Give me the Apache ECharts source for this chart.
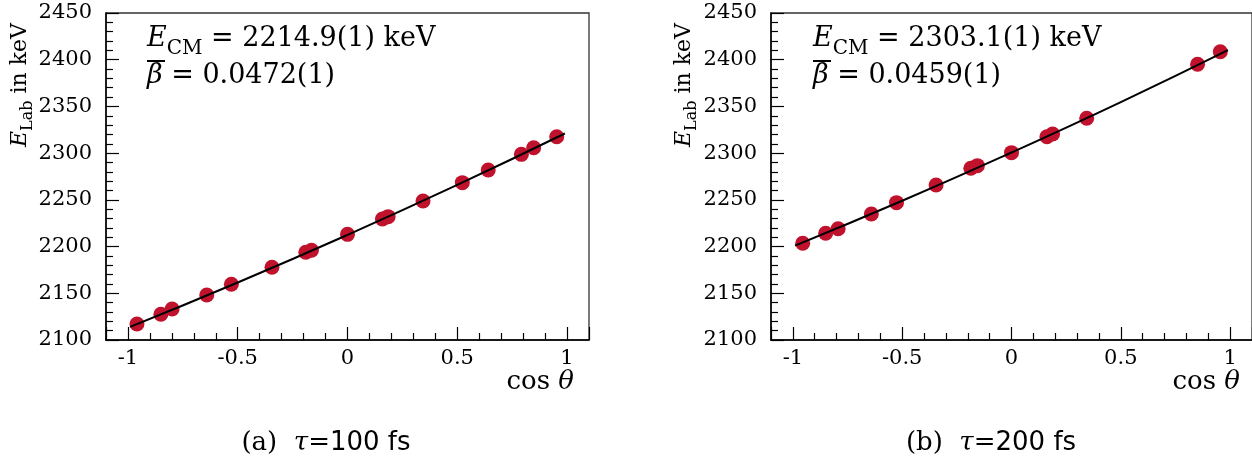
<!DOCTYPE html>
<html>
<head>
<meta charset="utf-8">
<script src="https://cdn.jsdelivr.net/npm/echarts@6/dist/echarts.min.js"></script>
<style>
html,body{margin:0;padding:0;background:#fff;}
#c{width:1252px;height:466px;}
</style>
</head>
<body>
<div id="c"></div>
<script>
// ---- data ----
const cosA = [-0.959,-0.85,-0.799,-0.641,-0.529,-0.344,-0.19,-0.164,0,0.159,0.185,0.344,0.523,0.641,0.792,0.848,0.953];
const eLabA = [2117.1,2127.5,2133.2,2148.2,2159.6,2177.8,2193.9,2196,2213.1,2229.5,2232,2248.8,2268.4,2282,2298.7,2305.8,2317.6];
const fitCosA = [-0.99,-0.5,0,0.5,0.99];
const fitEA = [2114,2161.5,2212.5,2266,2321];

const cosB = [-0.955,-0.85,-0.793,-0.641,-0.526,-0.345,-0.186,-0.156,0,0.162,0.188,0.344,0.851,0.955];
const eLabB = [2203.5,2214.2,2219.1,2234.9,2247,2265.9,2283.8,2286.6,2300.5,2317.6,2320.5,2337.3,2395.1,2408.6];
const fitCosB = [-0.99,-0.5,0,0.5,0.99];
const fitEB = [2201,2249,2300.7,2354.7,2410.3];

const ecmA = '2214.9(1)', betaA = '0.0472(1)', captionA = ['(a)','100'];
const ecmB = '2303.1(1)', betaB = '0.0459(1)', captionB = ['(b)','200'];

const yMin = 2100, yMax = 2450, yStep = 50;
const xMin = -1.1, xMax = 1.1;

// ---- chart ----
const SERIF = '"DejaVu Serif", serif';
const SANS = '"DejaVu Sans", sans-serif';
const red = '#c0122c';

function zip(a,b){return a.map((v,i)=>[v,b[i]]);}

function xAxisCfg(idx){
  return {
    type:'value', gridIndex:idx, min:xMin, max:xMax,
    axisLine:{onZero:false, lineStyle:{color:'#000', width:1.5}},
    axisTick:{inside:true, length:13, lineStyle:{color:'#000', width:1.2}},
    minorTick:{show:true, splitNumber:5, length:7, lineStyle:{color:'#000', width:1.2}},
    splitLine:{show:false}, minorSplitLine:{show:false},
    axisLabel:{showMinLabel:false, showMaxLabel:false, margin:8, fontSize:21, fontFamily:SERIF, color:'#000',
      formatter:v=>String(v)}
  };
}
function yAxisCfg(idx){
  return {
    type:'value', gridIndex:idx, min:yMin, max:yMax, interval:yStep,
    axisLine:{onZero:false, lineStyle:{color:'#000', width:1.5}},
    axisTick:{inside:true, length:13, lineStyle:{color:'#000', width:1.2}},
    minorTick:{show:true, splitNumber:5, length:7, lineStyle:{color:'#000', width:1.2}},
    splitLine:{show:false},
    axisLabel:{margin:14, fontSize:21, fontFamily:SERIF, color:'#000', formatter:v=>String(v)}
  };
}

const richMain = {
  e:{fontFamily:SERIF, fontStyle:'italic', fontSize:27, lineHeight:40, color:'#000'},
  sub:{fontFamily:SERIF, fontSize:20, lineHeight:20, verticalAlign:'bottom', color:'#000'},
  n:{fontFamily:SERIF, fontSize:27, lineHeight:40, color:'#000'}
};
const richY = {
  e:{fontFamily:SERIF, fontStyle:'italic', fontSize:22, lineHeight:32, color:'#000'},
  sub:{fontFamily:SERIF, fontSize:16, lineHeight:16, verticalAlign:'bottom', color:'#000'},
  n:{fontFamily:SERIF, fontSize:22, lineHeight:32, color:'#000'}
};
const richCap = {
  s:{fontFamily:SERIF, fontSize:26, color:'#000'},
  t:{fontFamily:SERIF, fontStyle:'italic', fontSize:26, color:'#000'},
  f:{fontFamily:SANS, fontSize:26, color:'#000'}
};

function panelGraphics(x0, ecm, beta, cap, capX, ynameX, xnameRight){
  return [
    {type:'text', left:x0, top:25, style:{text:'{e|E}{sub|CM}{n| = '+ecm+' keV}', rich:richMain}},
    {type:'text', left:x0, top:62, style:{text:'{e|β}{n| = '+beta+'}', rich:richMain}},
    {type:'line', shape:{x1:x0, y1:61, x2:x0+18, y2:61}, style:{stroke:'#000', lineWidth:2}},
    {type:'text', x:ynameX, y:85, rotation:Math.PI/2,
      style:{text:'{e|E}{sub|Lab}{n| in keV}', rich:richY, align:'center', verticalAlign:'middle'}},
    {type:'text', x:xnameRight, y:382,
      style:{text:'cos {t|θ}', fontFamily:SERIF, fontSize:26, fill:'#000', align:'right', verticalAlign:'middle',
        rich:{t:{fontFamily:SERIF, fontStyle:'italic', fontSize:26, color:'#000'}}}},
    {type:'text', x:capX, y:443,
      style:{text:'{s|'+cap[0]+'  }{t|τ}{s|=}{f|'+cap[1]+' fs}', rich:richCap, align:'center', verticalAlign:'middle'}}
  ];
}

const chart = echarts.init(document.getElementById('c'), null, {renderer:'canvas'});
chart.setOption({
  animation:false,
  backgroundColor:'#fff',
  grid:[
    {left:106, top:13, width:483, height:327, show:true, borderColor:'#333', borderWidth:1.3, backgroundColor:'transparent'},
    {left:771, top:13, width:483, height:327, show:true, borderColor:'#333', borderWidth:1.3, backgroundColor:'transparent'}
  ],
  xAxis:[xAxisCfg(0), xAxisCfg(1)],
  yAxis:[yAxisCfg(0), yAxisCfg(1)],
  series:[
    {type:'scatter', xAxisIndex:0, yAxisIndex:0, data:zip(cosA,eLabA), symbolSize:15, itemStyle:{color:red, opacity:1}, z:2},
    {type:'line', xAxisIndex:0, yAxisIndex:0, data:zip(fitCosA,fitEA), symbol:'none', smooth:true, lineStyle:{color:'#000', width:2}, z:3},
    {type:'scatter', xAxisIndex:1, yAxisIndex:1, data:zip(cosB,eLabB), symbolSize:15, itemStyle:{color:red, opacity:1}, z:2},
    {type:'line', xAxisIndex:1, yAxisIndex:1, data:zip(fitCosB,fitEB), symbol:'none', smooth:true, lineStyle:{color:'#000', width:2}, z:3}
  ],
  graphic: panelGraphics(147, ecmA, betaA, captionA, 326, 20, 574)
    .concat(panelGraphics(813, ecmB, betaB, captionB, 991, 684, 1240))
});
</script>
</body>
</html>
